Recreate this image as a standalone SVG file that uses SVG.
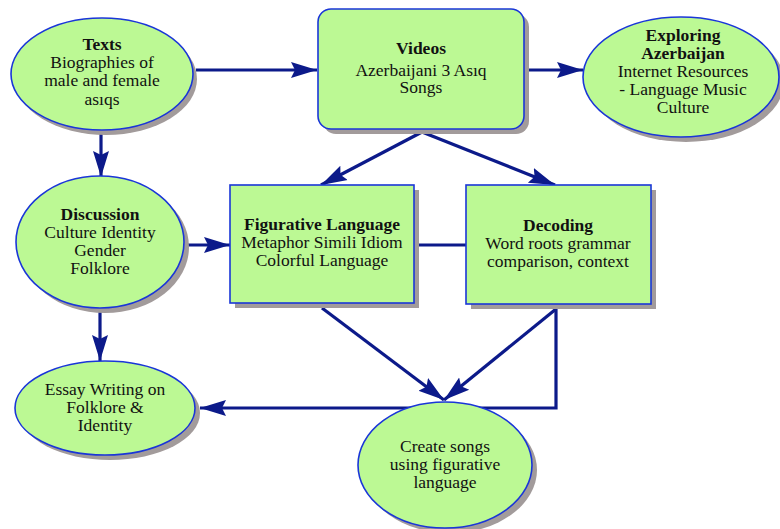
<svg xmlns="http://www.w3.org/2000/svg" width="780" height="529" viewBox="0 0 780 529">
<style>
.n{fill:#bcf994;stroke:#1a36d8;stroke-width:1.6}
.s{fill:#a29b9b;stroke:none}
.c{fill:none;stroke:#0c1a8a;stroke-width:3.2}
text{font-family:"Liberation Serif","Times New Roman",serif;font-size:17.5px;fill:#111;text-anchor:middle}
.b{font-weight:bold}
</style>
<defs>
<marker id="ah" markerUnits="userSpaceOnUse" markerWidth="28" markerHeight="20" refX="26" refY="9" orient="auto">
<path d="M0,1 L26,9 L0,17 L4,9 Z" fill="#0c1a8a"/>
</marker>
</defs>
<rect width="780" height="529" fill="#fff"/>
<g id="connectors">
<line class="c" x1="196" y1="70" x2="317" y2="70" marker-end="url(#ah)"/>
<line class="c" x1="101" y1="132" x2="101" y2="177" marker-end="url(#ah)"/>
<line class="c" x1="529" y1="70" x2="583" y2="70" marker-end="url(#ah)"/>
<line class="c" x1="422" y1="132" x2="321" y2="185" marker-end="url(#ah)"/>
<line class="c" x1="422" y1="132" x2="555" y2="185" marker-end="url(#ah)"/>
<line class="c" x1="188" y1="245" x2="230" y2="245" marker-end="url(#ah)"/>
<line class="c" x1="414" y1="245" x2="466" y2="245"/>
<line class="c" x1="100" y1="312" x2="100" y2="361" marker-end="url(#ah)"/>
<line class="c" x1="322" y1="308" x2="444" y2="400" marker-end="url(#ah)"/>
<line class="c" x1="556" y1="309" x2="444" y2="400" marker-end="url(#ah)"/>
<polyline class="c" points="556,309 556,408 200,408" marker-end="url(#ah)"/>
</g>
<g id="texts-node">
<ellipse class="s" cx="106" cy="79" rx="91" ry="56"/>
<ellipse class="n" cx="102" cy="74" rx="91" ry="56"/>
<text x="102" y="50" class="b">Texts</text>
<text x="102" y="68">Biographies of</text>
<text x="102" y="86">male and female</text>
<text x="102" y="105">asıqs</text>
</g>
<g id="videos">
<rect class="s" x="323" y="14" width="206" height="120" rx="13"/>
<rect class="n" x="318" y="9" width="206" height="120" rx="13"/>
<text x="421" y="54" class="b">Videos</text>
<text x="421" y="76">Azerbaijani 3 Asıq</text>
<text x="421" y="93">Songs</text>
</g>
<g id="exploring">
<ellipse class="s" cx="686" cy="82" rx="98" ry="60"/>
<ellipse class="n" cx="681" cy="77" rx="98" ry="60"/>
<text x="683" y="41" class="b">Exploring</text>
<text x="683" y="59" class="b">Azerbaijan</text>
<text x="683" y="77">Internet Resources</text>
<text x="683" y="95">- Language Music</text>
<text x="683" y="113">Culture</text>
</g>
<g id="discussion">
<ellipse class="s" cx="105" cy="247" rx="84" ry="66"/>
<ellipse class="n" cx="100" cy="242" rx="84" ry="66"/>
<text x="100" y="220" class="b">Discussion</text>
<text x="100" y="238">Culture Identity</text>
<text x="100" y="256">Gender</text>
<text x="100" y="274">Folklore</text>
</g>
<g id="figurative">
<rect class="s" x="235" y="190" width="184" height="118"/>
<rect class="n" x="230" y="185" width="184" height="118"/>
<text x="322" y="230" class="b">Figurative Language</text>
<text x="322" y="248">Metaphor Simili Idiom</text>
<text x="322" y="266">Colorful Language</text>
</g>
<g id="decoding">
<rect class="s" x="471" y="190" width="185" height="119"/>
<rect class="n" x="466" y="185" width="185" height="119"/>
<text x="558" y="231" class="b">Decoding</text>
<text x="558" y="249">Word roots grammar</text>
<text x="558" y="267">comparison, context</text>
</g>
<g id="essay">
<ellipse class="s" cx="110" cy="413" rx="90" ry="47"/>
<ellipse class="n" cx="105" cy="408" rx="90" ry="47"/>
<text x="105" y="395">Essay Writing on</text>
<text x="105" y="413">Folklore &amp;</text>
<text x="105" y="431">Identity</text>
</g>
<g id="create">
<ellipse class="s" cx="450" cy="470" rx="87" ry="63"/>
<ellipse class="n" cx="445" cy="465" rx="87" ry="63"/>
<text x="445" y="452">Create songs</text>
<text x="445" y="470">using figurative</text>
<text x="445" y="488">language</text>
</g>
</svg>
